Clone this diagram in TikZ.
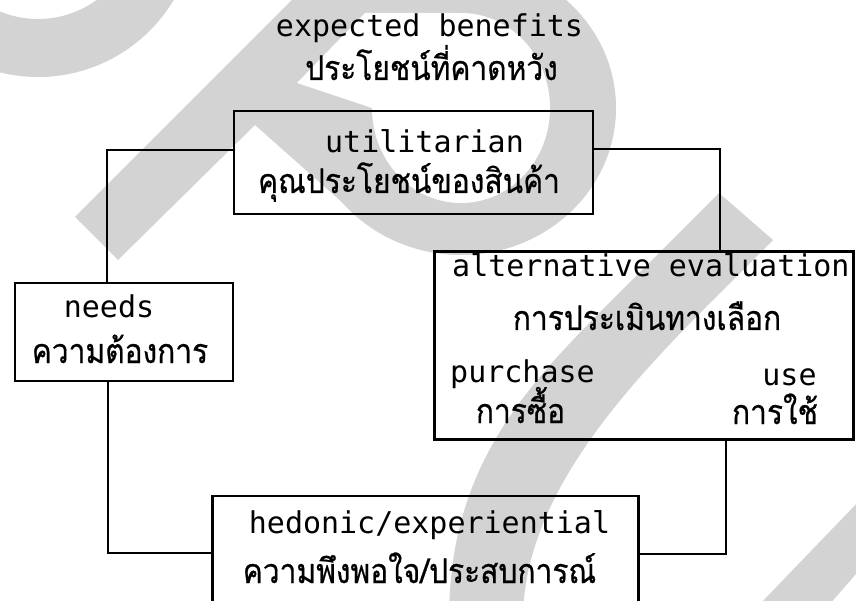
\documentclass[tikz,border=0pt]{standalone}
\usepackage{fontspec}
\newfontfamily\enfont{DejaVu Sans Mono}
\newfontfamily\thaifont[Script=Thai,FakeStretch=0.88,FakeBold=0.6]{Loma}
\definecolor{wm}{RGB}{211,211,211}
\tikzset{
  box/.style={draw, line width=2.2pt, inner sep=0pt},
  conn/.style={line width=1.4pt},
  en/.style={font=\enfont\fontsize{30}{34}\selectfont, inner sep=0pt, anchor=base},
  enl/.style={en, anchor=base west},
  th/.style={font=\thaifont\fontsize{34}{38}\selectfont, inner sep=0pt, anchor=base},
}
\begin{document}
\begin{tikzpicture}[x=1pt,y=-1pt]
\useasboundingbox (0,0) rectangle (856,601);
\clip (0,0) rectangle (856,601);
% watermark
\fill[wm, even odd rule] (38,-81) circle[radius=158pt] (38,-81) circle[radius=100pt];
\fill[wm] (461,108) ellipse[x radius=155pt, y radius=147pt];
\fill[wm] (75,217) -- (118,260) -- (255,125) -- (353,212) -- (461,108) -- (461,-60) -- (352,-60) -- cycle;
\fill[white] (461,108) ellipse[x radius=89pt, y radius=95pt];
\fill[white] (297,83) -- (365,13) -- (461,13) -- (461,108) -- (372,108) -- cycle;
\fill[wm] (719,193) -- (612,300) .. controls (520,392) and (449,470) .. (449,620) -- (523,620) .. controls (523,500) and (620,393) .. (713,300) -- (773,240) -- cycle;
\fill[wm] (759,605) -- (862,498) -- (862,567) -- (829,605) -- cycle;
% boxes
\node[box, minimum width=359pt, minimum height=103pt] (util) at (413.5,162.5) {};
\node[box, minimum width=218pt, minimum height=98pt] (needs) at (124,332) {};
\node[box, minimum width=419pt, minimum height=188pt] (alt) at (644,345.5) {};
\node[box, minimum width=426pt, minimum height=134pt] (hed) at (425.5,563) {};
% connectors
\coordinate (k1) at (107,150);
\coordinate (k2) at (720,149);
\coordinate (k3) at (108,553);
\coordinate (k4) at (726,554);
\draw[conn] (util.west |- k1) -- (k1) -- (k1 |- needs.north);
\draw[conn] (util.east |- k2) -- (k2) -- (k2 |- alt.north);
\draw[conn] (needs.south -| k3) -- (k3) -- (k3 -| hed.west);
\draw[conn] (hed.east |- k4) -- (k4) -- (k4 |- alt.south);
% texts
\node[en] (t1) at (429.5,37) {expected benefits};
\node[th] (t2) at (431.5,80) {ประโยชน์ที่คาดหวัง};
\node[en] (u1) at (424.5,153) {utilitarian};
\node[th] (u2) at (409,193) {คุณประโยชน์ของสินค้า};
\node[en] (n1) at (109,317) {needs};
\node[th] (n2) at (120,363) {ความต้องการ};
\node[enl] (a1) at (452,277) {alternative evaluation};
\node[th] (a2) at (647,330) {การประเมินทางเลือก};
\node[enl] (p1) at (450,382) {purchase};
\node[th] (p2) at (520.5,423) {การซื้อ};
\node[en] (s1) at (789.5,385) {use};
\node[th] (s2) at (775,424) {การใช้};
\node[en] (h1) at (429.5,533) {hedonic/experiential};
\node[th] (h2) at (419.5,583) {ความพึงพอใจ/ประสบการณ์};
\end{tikzpicture}
\end{document}
